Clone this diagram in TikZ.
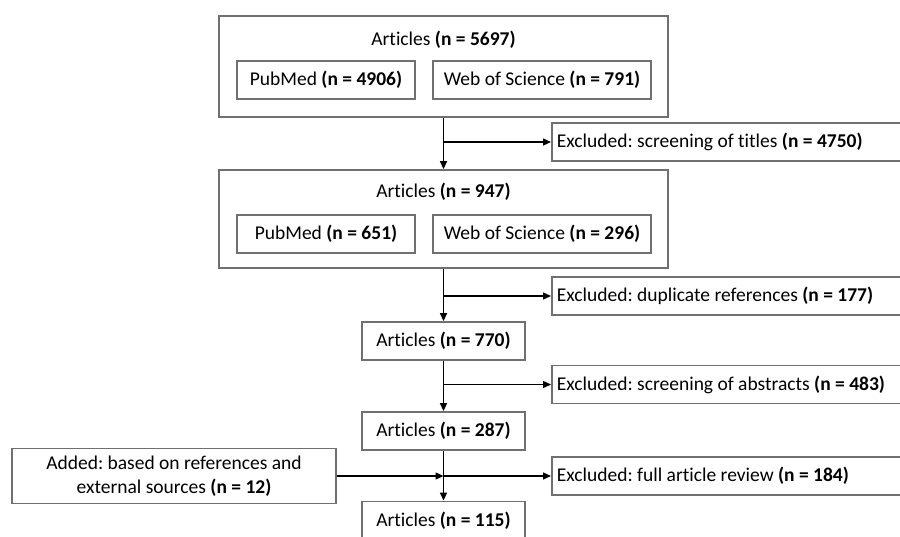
\documentclass[tikz,border=0pt]{standalone}
\usepackage{fontspec}
\setmainfont{Carlito}[Ligatures=NoCommon]
\usetikzlibrary{arrows.meta}
\definecolor{boxgray}{RGB}{112,112,112}
\tikzset{
  txt/.style={font=\fontsize{19.5}{23.5}\selectfont\frenchspacing, text=black},
  box/.style={txt, draw=boxgray, line width=1.8pt, rectangle, inner sep=0pt},
  exbox/.style={box, anchor=west, text width=350pt, inner xsep=5pt, align=flush left, minimum height=38pt},
  conn/.style={draw=black, line width=1.4pt, -{Triangle[length=8pt,width=7pt]}}
}
\begin{document}
\begin{tikzpicture}[x=1pt,y=-1pt]
\useasboundingbox (0,0) rectangle (900,536);
\clip (0,0) rectangle (900,536);
% first block
\node[box, minimum width=449pt, minimum height=101pt] (box1) at (443.5,66.5) {};
\node[txt] (t1) at (443.5,40) {Articles \textbf{(n = 5697)}};
\node[box, minimum width=178pt, minimum height=38pt] (pub1) at (326,80) {PubMed \textbf{(n = 4906)}};
\node[box, minimum width=218pt, minimum height=38pt] (wos1) at (542,80) {Web of Science \textbf{(n = 791)}};
% second block
\node[box, minimum width=449pt, minimum height=98pt] (box2) at (443.5,219) {};
\node[txt] (t2) at (443.5,192) {Articles \textbf{(n = 947)}};
\node[box, minimum width=178pt, minimum height=38pt] (pub2) at (326,234) {PubMed \textbf{(n = 651)}};
\node[box, minimum width=218pt, minimum height=38pt] (wos2) at (542,234) {Web of Science \textbf{(n = 296)}};
% chain
\node[box, minimum width=163pt, minimum height=38pt] (a770) at (443.5,341) {Articles \textbf{(n = 770)}};
\node[box, minimum width=163pt, minimum height=38pt] (a287) at (443.5,431) {Articles \textbf{(n = 287)}};
\node[box, minimum width=163pt, minimum height=38pt] (a115) at (443.5,520.5) {Articles \textbf{(n = 115)}};
\node[box, minimum width=324pt, minimum height=55pt, align=center] (added) at (174,476) {Added: based on references and\\external sources \textbf{(n = 12)}};
% excluded
\node[exbox] (ex1) at (551,142) {Excluded: screening of titles \textbf{(n = 4750)}};
\node[exbox] (ex2) at (551,296) {Excluded: duplicate references \textbf{(n = 177)}};
\node[exbox] (ex3) at (551,384.5) {Excluded: screening of abstracts \textbf{(n = 483)}};
\node[exbox] (ex4) at (551,476) {Excluded: full article review \textbf{(n = 184)}};
% connectors
\draw[conn] (box1.south) -- (box2.north);
\draw[conn] (box1.south |- ex1.west) -- (ex1.west);
\draw[conn] (box2.south) -- (a770.north);
\draw[conn] (box2.south |- ex2.west) -- (ex2.west);
\draw[conn] (a770.south) -- (a287.north);
\draw[conn] (a770.south |- ex3.west) -- (ex3.west);
\draw[conn] (a287.south) -- (a115.north);
\draw[conn] (a287.south |- ex4.west) -- (ex4.west);
\draw[conn] (added.east) -- (added.east -| a287.south);
\end{tikzpicture}
\end{document}
